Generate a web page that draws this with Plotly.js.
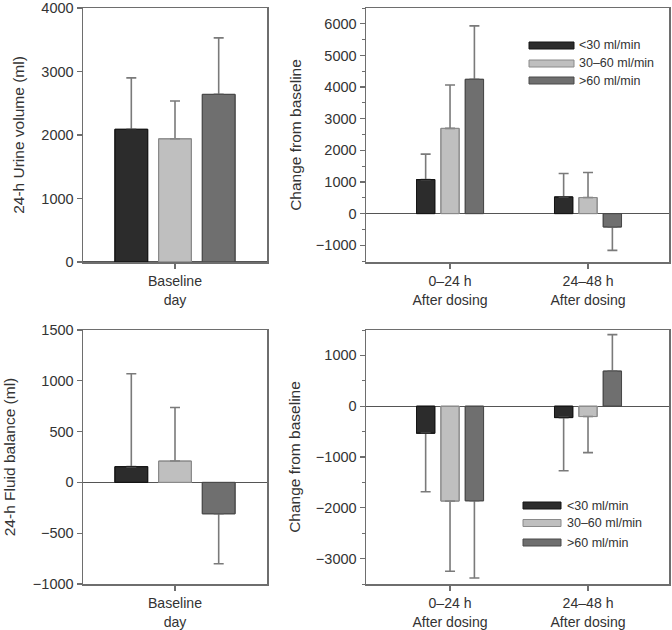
<!DOCTYPE html>
<html>
<head>
<meta charset="utf-8">
<script src="https://cdn.plot.ly/plotly-3.0.1.min.js"></script>
<style>html,body{margin:0;padding:0;background:#fff;}#chart{width:672px;height:630px;}</style>
</head>
<body>
<div id="chart"></div>
<script>
// ---- data ----
const groups = ['<30 ml/min', '30–60 ml/min', '>60 ml/min'];
const baselineCat = ['Baseline<br>day'];
const periodCats = ['0–24 h<br>After dosing', '24–48 h<br>After dosing'];

// 24-h urine volume at baseline (ml): mean, SD
const urineBase = [2090, 1940, 2640];
const urineBaseSD = [810, 595, 890];
// change in urine volume from baseline: [0-24 h, 24-48 h] per group
const urineChg = [[1077, 528], [2694, 507], [4246, -423]];
const urineChgSD = [[803, 740], [1373, 793], [1690, 739]];

// 24-h fluid balance at baseline (ml)
const fluidBase = [155, 210, -309];
const fluidBaseSD = [914, 527, 491];
// change in fluid balance from baseline
const fluidChg = [[-533, -224], [-1868, -204], [-1862, 691]];
const fluidChgSD = [[1151, 1046], [1382, 710], [1520, 717]];

// ---- styles ----
const fills = ['#2c2c2c', '#bfbfbf', '#6f6f6f'];
const edges = ['#151515', '#8a8a8a', '#4a4a4a'];
const errColor = '#7a7a7a';
const frameColor = '#6e6e6e';
const textColor = '#333333';
const FONT = 'Liberation Sans, Arial, Helvetica, sans-serif';

function errFor(vals, sds) {
  return {
    type: 'data', symmetric: false,
    array: vals.map((v, i) => v >= 0 ? sds[i] : 0),
    arrayminus: vals.map((v, i) => v < 0 ? sds[i] : 0),
    color: errColor, thickness: 1.6, width: 5
  };
}

const traces = [];
function addPanel(xCats, valsByGroup, sdsByGroup, xa, ya) {
  // filled bars with one-sided error bars
  groups.forEach((g, gi) => {
    const vals = valsByGroup[gi], sds = sdsByGroup[gi];
    traces.push({
      type: 'bar', name: g, x: xCats, y: vals, xaxis: xa, yaxis: ya,
      offsetgroup: 'g' + gi,
      marker: {color: fills[gi], line: {color: edges[gi], width: 1}},
      error_y: errFor(vals, sds), showlegend: false, hoverinfo: 'y'
    });
  });
  // outline pass drawn on top so the bar edge stays crisp
  groups.forEach((g, gi) => {
    traces.push({
      type: 'bar', name: g, x: xCats, y: valsByGroup[gi], xaxis: xa, yaxis: ya,
      offsetgroup: 'g' + gi,
      marker: {color: 'rgba(0,0,0,0)', line: {color: edges[gi], width: 1}},
      showlegend: false, hoverinfo: 'skip'
    });
  });
}
addPanel(baselineCat, urineBase.map(v => [v]), urineBaseSD.map(v => [v]), 'x', 'y');
addPanel(periodCats, urineChg, urineChgSD, 'x2', 'y2');
addPanel(baselineCat, fluidBase.map(v => [v]), fluidBaseSD.map(v => [v]), 'x3', 'y3');
addPanel(periodCats, fluidChg, fluidChgSD, 'x4', 'y4');

// ---- layout ----
const W = 672, H = 630;
const px = v => v / W, py = v => 1 - v / H;

const tickFont = {family: FONT, size: 14.5, color: textColor};
const xTickFont = {family: FONT, size: 14.1, color: textColor};
const titleFont = {family: FONT, size: 15.5, color: textColor};

function xAxis(dom, rng, anchor) {
  return {
    domain: dom, range: rng, anchor: anchor, type: 'category',
    showline: true, mirror: true, linecolor: frameColor, linewidth: 1.5,
    ticks: 'outside', ticklen: 5, tickcolor: frameColor, tickwidth: 1.2,
    ticklabelstandoff: 1,
    tickfont: xTickFont, showgrid: false, zeroline: false, fixedrange: true,
    automargin: false
  };
}
function yAxis(dom, rng, dtick, anchor, title, minor, standoff) {
  const a = {
    domain: dom, range: rng, anchor: anchor, dtick: dtick, tick0: 0,
    showline: true, mirror: true, linecolor: frameColor, linewidth: 1.5,
    ticks: 'outside', ticklen: 5, tickcolor: frameColor, tickwidth: 1.2,
    tickfont: tickFont, showgrid: false,
    zeroline: true, zerolinecolor: '#555555', zerolinewidth: 1.3,
    title: {text: title, font: titleFont, standoff: standoff},
    automargin: false, fixedrange: true
  };
  if (minor) a.minor = {dtick: minor, ticklen: 3, tickcolor: frameColor, tickwidth: 1, ticks: 'outside'};
  return a;
}

const leftDom = [px(83), px(267)];
const rightDom = [px(366), px(669)];
const topDom = [py(262), py(8)];
const botDom = [py(584), py(330)];

const shapes = [], annotations = [];
function legendBlock(x0, x1, rowsY, h, textX) {
  groups.forEach((g, gi) => {
    const yc = rowsY[gi];
    shapes.push({type: 'rect', xref: 'paper', yref: 'paper',
      x0: px(x0), x1: px(x1), y0: py(yc + h / 2), y1: py(yc - h / 2),
      fillcolor: fills[gi], line: {color: edges[gi], width: 1}});
    annotations.push({xref: 'paper', yref: 'paper', x: px(textX), y: py(yc),
      xanchor: 'left', yanchor: 'middle', showarrow: false, text: g,
      font: {family: FONT, size: 12.5, color: textColor}});
  });
}
legendBlock(529, 574, [45.5, 63.5, 80.5], 7, 577);
legendBlock(523, 561, [505.5, 523, 542.5], 7, 565);

const layout = {
  width: W, height: H,
  margin: {l: 0, r: 0, t: 0, b: 0, pad: 0},
  paper_bgcolor: '#ffffff', plot_bgcolor: '#ffffff',
  barmode: 'group', bargap: 0.47, bargroupgap: 0.25,
  showlegend: false,
  font: {family: FONT, color: textColor},
  xaxis: xAxis(leftDom, [-0.372, 0.372], 'y'),
  yaxis: yAxis(topDom, [0, 4000], 1000, 'x', '24-h Urine volume (ml)', null, 12.5),
  xaxis2: xAxis(rightDom, [-0.609, 1.587], 'y2'),
  yaxis2: yAxis(topDom, [-1530, 6500], 1000, 'x2', 'Change from baseline', 500, 10),
  xaxis3: xAxis(leftDom, [-0.372, 0.372], 'y3'),
  yaxis3: yAxis(botDom, [-1000, 1500], 500, 'x3', '24-h Fluid balance (ml)', null, 13),
  xaxis4: xAxis(rightDom, [-0.609, 1.587], 'y4'),
  yaxis4: yAxis(botDom, [-3500, 1500], 1000, 'x4', 'Change from baseline', 500, 11),
  shapes: shapes, annotations: annotations
};

Plotly.newPlot('chart', traces, layout, {displayModeBar: false, staticPlot: true});
</script>
</body>
</html>
